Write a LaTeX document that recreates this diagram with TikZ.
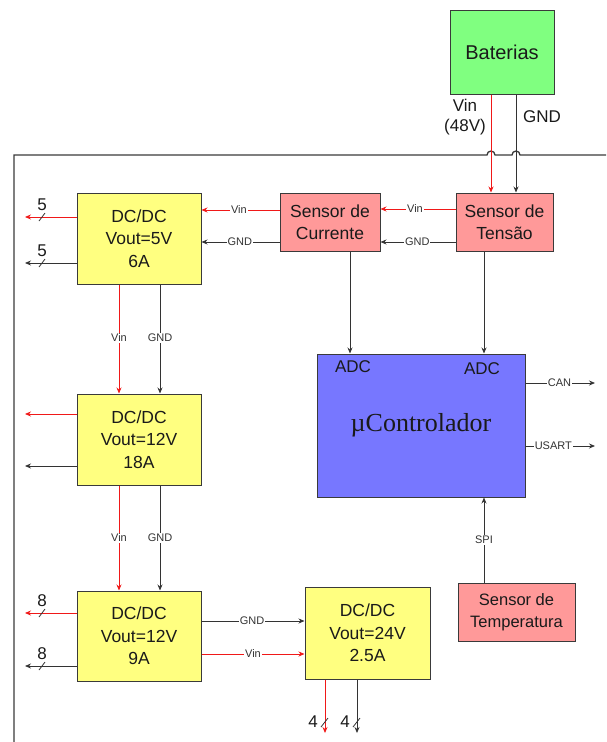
\documentclass[tikz,border=0pt]{standalone}
\usepackage{fontspec}
\setmainfont{Liberation Sans}
\newfontfamily\serifmc{Liberation Serif}
\usetikzlibrary{arrows.meta,calc}
\definecolor{boxline}{HTML}{3A3A3A}
\definecolor{txt}{HTML}{1A1A1A}
\definecolor{wirered}{HTML}{F01818}
\definecolor{wireblack}{HTML}{333333}
\definecolor{lbltext}{HTML}{333333}
\definecolor{gfill}{HTML}{80FF80}
\definecolor{pfill}{HTML}{FF9999}
\definecolor{yfill}{HTML}{FFFF80}
\definecolor{bfill}{HTML}{7777FF}
\begin{document}
\begin{tikzpicture}[x=1pt,y=-1pt,
  box/.style={draw=boxline, line width=1pt, align=center, text=txt, inner sep=0pt,
    font=\fontsize{17.5}{22.5}\selectfont},
  tipa/.style={-{Stealth[length=6pt,width=5pt]}},
  wr/.style={draw=wirered, line width=0.8pt, tipa},
  wb/.style={draw=wireblack, line width=0.8pt, tipa},
  lbl/.style={fill=white, inner sep=1pt, text=lbltext, font=\fontsize{11}{12}\selectfont},
  big/.style={text=txt, font=\fontsize{17}{21}\selectfont, align=center},
  slash/.style={draw=wireblack, line width=0.8pt}
]
\useasboundingbox (0,0) rectangle (606,742);

% frame with hops
\draw[draw=boxline, line width=1.3pt] (606,155) -- (520,155)
  arc[start angle=0, end angle=-180, radius=4] -- (495,155)
  arc[start angle=0, end angle=-180, radius=4] -- (14,155) -- (14,742);

% boxes
\node[box, fill=gfill, minimum width=104pt, minimum height=84pt, font=\fontsize{20}{24}\selectfont] (bat) at (502,52) {Baterias};
\node[box, fill=pfill, minimum width=97pt, minimum height=58pt] (tens) at (504.5,222) {Sensor de\\Tensão};
\node[box, fill=pfill, minimum width=100pt, minimum height=58pt] (curr) at (330,222) {Sensor de\\Currente};
\node[box, fill=yfill, minimum width=124pt, minimum height=91pt] (dcA) at (139,238.5) {DC/DC\\Vout=5V\\6A};
\node[box, fill=yfill, minimum width=124pt, minimum height=91pt] (dcB) at (139,439.5) {DC/DC\\Vout=12V\\18A};
\node[box, fill=yfill, minimum width=124pt, minimum height=90pt] (dcC) at (139,636) {DC/DC\\Vout=12V\\9A};
\node[box, fill=yfill, minimum width=125pt, minimum height=92pt] (dcD) at (367.5,633) {DC/DC\\Vout=24V\\2.5A};
\node[box, fill=bfill, minimum width=208pt, minimum height=143pt, font=\serifmc\fontsize{26}{30}\selectfont] (mc) at (421,425.5) {µControlador};
\node[box, fill=pfill, minimum width=117pt, minimum height=58pt, font=\fontsize{16.5}{21.5}\selectfont] (temp) at (516.5,612) {Sensor de\\Temperatura};

% ADC labels
\node[big] (adc1) at (353,367) {ADC};
\node[big] (adc2) at (482,369) {ADC};

% battery wires
\draw[wr] (491,0 |- bat.south) -- (491,0 |- tens.north);
\draw[wb] (516,0 |- bat.south) -- (516,0 |- tens.north);
\node[big, font=\fontsize{17}{20}\selectfont] (vinlbl) at (465,117) {Vin\\(48V)};
\node[big, font=\fontsize{17}{20}\selectfont] (gndlbl) at (542,117) {GND};

% sensor tension -> current
\draw[wr] (tens.west |- 0,209) -- node[lbl, pos=0.54] {Vin} (curr.east |- 0,209);
\draw[wb] (tens.west |- 0,242) -- node[lbl, pos=0.51] {GND} (curr.east |- 0,242);
% current -> dc 5V
\draw[wr] (curr.west |- 0,210) -- node[lbl, pos=0.52] {Vin} (dcA.east |- 0,210);
\draw[wb] (curr.west |- 0,242) -- node[lbl, pos=0.51] {GND} (dcA.east |- 0,242);

% sensors -> microcontroller
\draw[wb] (350,0 |- curr.south) -- (350,0 |- mc.north);
\draw[wb] (484,0 |- tens.south) -- (484,0 |- mc.north);

% dc chain
\draw[wr] (119,0 |- dcA.south) -- node[lbl, pos=0.49] {Vin} (119,0 |- dcB.north);
\draw[wb] (160,0 |- dcA.south) -- node[lbl, pos=0.49] {GND} (160,0 |- dcB.north);
\draw[wr] (119,0 |- dcB.south) -- node[lbl, pos=0.5] {Vin} (119,0 |- dcC.north);
\draw[wb] (160,0 |- dcB.south) -- node[lbl, pos=0.5] {GND} (160,0 |- dcC.north);
\draw[wb] (dcC.east |- 0,621) -- node[lbl, pos=0.49] {GND} (dcD.west |- 0,621);
\draw[wr] (dcC.east |- 0,654) -- node[lbl, pos=0.5] {Vin} (dcD.west |- 0,654);

% microcontroller outputs
\coordinate (canend) at (595,383);
\coordinate (usartend) at (595,446);
\draw[wb] (mc.east |- canend) -- node[lbl, pos=0.49] {CAN} (canend);
\draw[wb] (mc.east |- usartend) -- node[lbl, pos=0.4] {USART} (usartend);
\draw[wb] (484,0 |- temp.north) -- node[lbl, pos=0.5] {SPI} (484,0 |- mc.south);

% left outputs
\coordinate (oA1) at (25,217);
\coordinate (oA2) at (25,263);
\coordinate (oB1) at (25,414);
\coordinate (oB2) at (25,466);
\coordinate (oC1) at (25,613);
\coordinate (oC2) at (25,666);
\draw[wr] (dcA.west |- oA1) -- (oA1);
\draw[wb] (dcA.west |- oA2) -- (oA2);
\draw[wr] (dcB.west |- oB1) -- (oB1);
\draw[wb] (dcB.west |- oB2) -- (oB2);
\draw[wr] (dcC.west |- oC1) -- (oC1);
\draw[wb] (dcC.west |- oC2) -- (oC2);
\draw[slash] (39,221) -- (45,213);
\draw[slash] (39,267) -- (45,259);
\draw[slash] (39,617) -- (45,609);
\draw[slash] (39,670) -- (45,662);
\node[big] (nA1) at (42,205) {5};
\node[big] (nA2) at (42,251) {5};
\node[big] (nC1) at (42,601) {8};
\node[big] (nC2) at (42,654) {8};

% bottom outputs
\coordinate (oD1) at (325,733);
\coordinate (oD2) at (357,733);
\draw[wr] (oD1 |- dcD.south) -- (oD1);
\draw[wb] (oD2 |- dcD.south) -- (oD2);
\draw[slash] (321,727) -- (328,718);
\draw[slash] (353,727) -- (360,718);
\node[big] (nD1) at (313,722) {4};
\node[big] (nD2) at (345,722) {4};
\end{tikzpicture}
\end{document}
